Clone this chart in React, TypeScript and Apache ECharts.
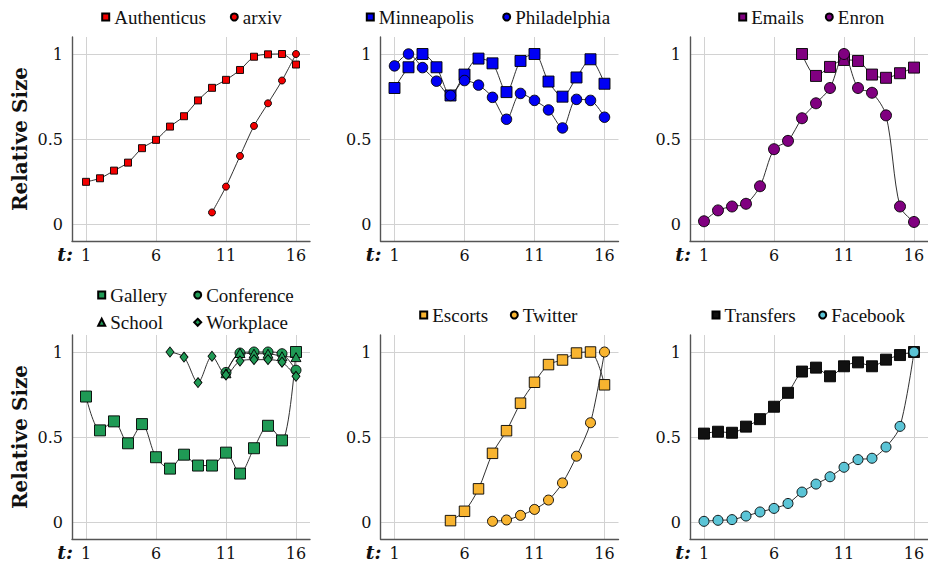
import React, { useEffect, useRef } from "react";
import * as echarts from "echarts";

// ---------- data ----------
const tTicks = [1, 6, 11, 16];
const yTicks = [0, 0.5, 1];

const authenticusStart = 1;
const authenticus = [0.248, 0.269, 0.314, 0.361, 0.446, 0.495, 0.573, 0.634, 0.727, 0.801, 0.848, 0.906, 0.984, 0.998, 1.0, 0.938];
const arxivStart = 10;
const arxiv = [0.068, 0.22, 0.4, 0.577, 0.71, 0.844, 1.0];

const minneapolisStart = 1;
const minneapolis = [0.8, 0.922, 1.0, 0.922, 0.756, 0.879, 0.973, 0.945, 0.776, 0.959, 1.0, 0.838, 0.749, 0.862, 0.969, 0.825];
const philadelphiaStart = 1;
const philadelphia = [0.93, 1.0, 0.92, 0.84, 0.756, 0.844, 0.817, 0.745, 0.616, 0.768, 0.727, 0.671, 0.565, 0.733, 0.727, 0.628];

const emailsStart = 8;
const emails = [1.0, 0.871, 0.924, 0.965, 0.959, 0.879, 0.86, 0.887, 0.92];
const enronStart = 1;
const enron = [0.016, 0.08, 0.103, 0.119, 0.222, 0.44, 0.489, 0.622, 0.71, 0.8, 1.0, 0.8, 0.772, 0.639, 0.103, 0.012];

const galleryStart = 1;
const gallery = [0.738, 0.539, 0.592, 0.463, 0.576, 0.381, 0.314, 0.396, 0.332, 0.332, 0.408, 0.285, 0.434, 0.566, 0.48, 1.0];
const conferenceStart = 11;
const conference = [0.88, 0.994, 1.0, 1.0, 0.99, 0.893];
const schoolStart = 11;
const school = [0.875, 0.994, 0.99, 0.99, 0.975, 0.97];
const workplaceStart = 7;
const workplace = [1.0, 0.97, 0.82, 0.975, 0.865, 0.947, 0.955, 0.955, 0.94, 0.857];

const escortsStart = 5;
const escorts = [0.008, 0.063, 0.195, 0.404, 0.537, 0.699, 0.822, 0.926, 0.953, 0.994, 1.0, 0.807];
const twitterStart = 8;
const twitter = [0.004, 0.012, 0.039, 0.074, 0.129, 0.23, 0.387, 0.584, 1.0];

const transfersStart = 1;
const transfers = [0.52, 0.531, 0.525, 0.561, 0.605, 0.678, 0.76, 0.885, 0.908, 0.857, 0.916, 0.939, 0.916, 0.955, 0.982, 1.0];
const facebookStart = 1;
const facebook = [0.004, 0.01, 0.014, 0.035, 0.059, 0.08, 0.109, 0.176, 0.223, 0.266, 0.322, 0.367, 0.375, 0.441, 0.5625, 1.0];

// ---------- styles / layout ----------
const RED = "#f20000";
const BLUE = "#0000f5";
const PURPLE = "#800080";
const GREEN = "#1f9a55";
const ORANGE = "#f8b430";
const CYAN = "#5bc4d6";
const BLACK = "#111111";

const LEGEND_FONT = '"Liberation Serif", "Times New Roman", serif';
const TICK_FONT = '"DejaVu Serif", serif';

const GRID_W = 238;
const GRID_H = 204;
const COL_LEFT = [72, 380.5, 690];
const ROW_TOP = [37, 335];

const toPoints = (start: number, values: number[]) => values.map((v, i) => [start + i, v]);

type SDef = { panel: number; name: string; start: number; values: number[]; color: string; symbol: string; size: number | number[] };

const seriesDefs: SDef[] = [
  { panel: 0, name: "Authenticus", start: authenticusStart, values: authenticus, color: RED, symbol: "rect", size: 7 },
  { panel: 0, name: "arxiv", start: arxivStart, values: arxiv, color: RED, symbol: "circle", size: 7 },
  { panel: 1, name: "Minneapolis", start: minneapolisStart, values: minneapolis, color: BLUE, symbol: "rect", size: 11 },
  { panel: 1, name: "Philadelphia", start: philadelphiaStart, values: philadelphia, color: BLUE, symbol: "circle", size: 10.5 },
  { panel: 2, name: "Emails", start: emailsStart, values: emails, color: PURPLE, symbol: "rect", size: 11 },
  { panel: 2, name: "Enron", start: enronStart, values: enron, color: PURPLE, symbol: "circle", size: 11 },
  { panel: 3, name: "Gallery", start: galleryStart, values: gallery, color: GREEN, symbol: "rect", size: 11 },
  { panel: 3, name: "Conference", start: conferenceStart, values: conference, color: GREEN, symbol: "circle", size: 10 },
  { panel: 3, name: "School", start: schoolStart, values: school, color: GREEN, symbol: "triangle", size: [10, 9] },
  { panel: 3, name: "Workplace", start: workplaceStart, values: workplace, color: GREEN, symbol: "diamond", size: [8, 10] },
  { panel: 4, name: "Escorts", start: escortsStart, values: escorts, color: ORANGE, symbol: "rect", size: 10.5 },
  { panel: 4, name: "Twitter", start: twitterStart, values: twitter, color: ORANGE, symbol: "circle", size: 10 },
  { panel: 5, name: "Transfers", start: transfersStart, values: transfers, color: BLACK, symbol: "rect", size: 11 },
  { panel: 5, name: "Facebook", start: facebookStart, values: facebook, color: CYAN, symbol: "circle", size: 10 },
];

const legendItems = [
  { name: "Authenticus", icon: "rect", cx: 104.7, cy: 17 },
  { name: "arxiv", icon: "circle", cx: 233.3, cy: 17 },
  { name: "Minneapolis", icon: "rect", cx: 369.3, cy: 17 },
  { name: "Philadelphia", icon: "circle", cx: 505.7, cy: 17 },
  { name: "Emails", icon: "rect", cx: 741.7, cy: 17 },
  { name: "Enron", icon: "circle", cx: 828.3, cy: 17 },
  { name: "Gallery", icon: "rect", cx: 100.7, cy: 295 },
  { name: "Conference", icon: "circle", cx: 196.7, cy: 295 },
  { name: "School", icon: "triangle", cx: 100.7, cy: 322.3 },
  { name: "Workplace", icon: "diamond", cx: 196.7, cy: 322.3 },
  { name: "Escorts", icon: "rect", cx: 422.7, cy: 315 },
  { name: "Twitter", icon: "circle", cx: 513.3, cy: 315 },
  { name: "Transfers", icon: "rect", cx: 715, cy: 315 },
  { name: "Facebook", icon: "circle", cx: 821.7, cy: 315 },
];

function buildOption() {
  const grids: any[] = [];
  const xAxes: any[] = [];
  const yAxes: any[] = [];
  const graphics: any[] = [];
  for (let p = 0; p < 6; p++) {
    const row = Math.floor(p / 3);
    const col = p % 3;
    const left = COL_LEFT[col];
    const top = ROW_TOP[row];
    grids.push({ left, top, width: GRID_W, height: GRID_H, containLabel: false });
    xAxes.push({
      gridIndex: p,
      type: "value",
      min: 0,
      max: 17,
      axisLine: { show: true, onZero: false, lineStyle: { color: "#555", width: 1.4 } },
      axisTick: { show: false, customValues: tTicks },
      axisLabel: { customValues: tTicks, margin: 6, fontFamily: TICK_FONT, fontSize: 16, color: BLACK },
      splitLine: { show: true, lineStyle: { color: "#d2d2d2", width: 1 } },
    });
    yAxes.push({
      gridIndex: p,
      type: "value",
      min: -0.1,
      max: 1.1,
      name: col === 0 ? "Relative Size" : "",
      nameLocation: "middle",
      nameGap: 42,
      nameTextStyle: { fontFamily: TICK_FONT, fontWeight: "bold", fontSize: 20, color: BLACK },
      axisLine: { show: true, onZero: false, lineStyle: { color: "#555", width: 1.4 } },
      axisTick: { show: false, customValues: yTicks },
      axisLabel: { customValues: yTicks, margin: 9, fontFamily: TICK_FONT, fontSize: 16, color: BLACK },
      splitLine: { show: true, lineStyle: { color: "#d2d2d2", width: 1 } },
    });
    graphics.push({
      type: "text",
      x: left + 1,
      y: top + GRID_H + 13,
      style: {
        text: "t:",
        font: 'italic bold 19px "DejaVu Serif", serif',
        fill: BLACK,
        align: "right",
        textAlign: "right",
        verticalAlign: "middle",
        textVerticalAlign: "middle",
      },
    });
  }

  const series = seriesDefs.map((s, i) => ({
    type: "line",
    name: s.name,
    xAxisIndex: s.panel,
    yAxisIndex: s.panel,
    data: toPoints(s.start, s.values),
    symbol: s.symbol,
    symbolSize: s.size,
    showAllSymbol: true,
    smooth: 0.3,
    z: 2 + i,
    lineStyle: { color: "#1a1a1a", width: 0.9 },
    itemStyle: { color: s.color, borderColor: "#000", borderWidth: 0.9 },
    emphasis: { disabled: true },
  }));

  const legends = legendItems.map((l) => ({
    data: [l.name],
    icon: l.icon,
    left: l.cx - 3.5,
    top: l.cy - 9.5,
    padding: 0,
    itemWidth: 7,
    itemHeight: 7,
    itemGap: 0,
    selectedMode: false,
    textStyle: { fontFamily: LEGEND_FONT, fontSize: 19, color: BLACK, padding: [0, 0, 0, 0] },
  }));

  return {
    animation: false,
    backgroundColor: "#ffffff",
    grid: grids,
    xAxis: xAxes,
    yAxis: yAxes,
    legend: legends,
    series,
    graphic: graphics,
  };
}

export default function App() {
  const ref = useRef<HTMLDivElement>(null);
  useEffect(() => {
    if (!ref.current) return;
    const chart = echarts.init(ref.current, undefined, { renderer: "svg" });
    chart.setOption(buildOption() as any);
    return () => chart.dispose();
  }, []);
  return (
    <div
      ref={ref}
      style={{ position: "absolute", left: 0, top: 0, width: 928, height: 566, background: "#fff" }}
    />
  );
}
